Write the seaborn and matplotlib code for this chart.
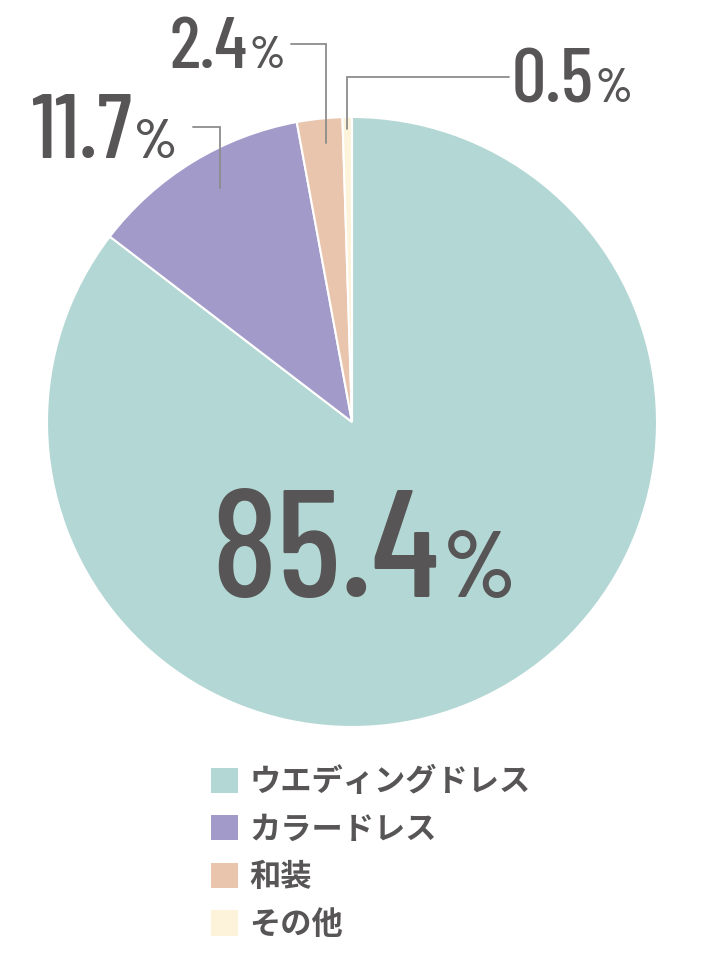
import matplotlib
matplotlib.use('Agg')
import matplotlib.pyplot as plt
import numpy as np
import seaborn as sns
from matplotlib import font_manager
from matplotlib.font_manager import FontProperties
from matplotlib.patches import Patch
from matplotlib.textpath import TextPath

# data
labels = ['ウエディングドレス', 'カラードレス', '和装', 'その他']
shares = [85.4, 11.7, 2.4, 0.5]
share_text = ['85.4', '11.7', '2.4', '0.5']
colors = ['#b3d7d4', '#a29ac8', '#eac5ad', '#fdf3da']

sns.set_theme(style='white')
plt.rcParams['font.family'] = ['Noto Sans CJK JP', 'DejaVu Sans']
text_color = '#575555'
line_color = '#8c8c8c'

# narrow font for the numbers
files = [f.fname for f in font_manager.fontManager.ttflist]


def find_font(keys):
    for key in keys:
        hits = [p for p in files if key in p]
        if hits:
            return hits[0]
    return None


num_path = find_font(['BarlowCondensed-Medium.ttf', 'FiraSansExtraCondensed-Medium.ttf',
                      'DejaVuSansCondensed.ttf', 'LiberationSansNarrow-Regular'])
pct_path = find_font(['BarlowCondensed-SemiBold.ttf', 'BarlowCondensed-Medium.ttf',
                      'DejaVuSansCondensed.ttf'])


def make_font(path, size):
    if path:
        return FontProperties(fname=path, size=size)
    return FontProperties(family='DejaVu Sans', size=size)


W, H = 720, 980
fig = plt.figure(figsize=(W / 100, H / 100), dpi=100)
cx, cy, R = 352, 422, 305
ax = fig.add_axes([(cx - R) / W, (H - cy - R) / H, 2 * R / W, 2 * R / H])

wedges, _ = ax.pie(shares, colors=sns.color_palette(colors), startangle=90,
                   counterclock=False, radius=1,
                   wedgeprops=dict(edgecolor='white', linewidth=1.5))
ax.set_xlim(-1, 1)
ax.set_ylim(-1, 1)


def dx(px):
    return (px - cx) / R


def dy(py):
    return (cy - py) / R


renderer = fig.canvas.get_renderer()
cap_em = TextPath((0, 0), '8', prop=make_font(num_path, 1)).get_extents().height


def pct_label(txt, xc, base, cap):
    size = cap / cap_em * 72 / 100
    t1 = ax.text(0, 0, txt, fontproperties=make_font(num_path, size), color=text_color,
                 ha='left', va='baseline', clip_on=False)
    t2 = ax.text(0, 0, '%', fontproperties=make_font(pct_path, size * 0.62),
                 color=text_color, ha='left', va='baseline', clip_on=False)
    w1 = t1.get_window_extent(renderer).width
    w2 = t2.get_window_extent(renderer).width
    gap = 0.03 * cap
    left = xc - (w1 + gap + w2) / 2
    t1.set_position((dx(left), dy(base)))
    t2.set_position((dx(left + w1 + gap), dy(base)))


# label centre x, baseline y, cap height (pixels)
label_pos = [(364, 597, 110), (104, 158, 65), (227, 68, 53), (572, 102, 55)]
for txt, (xc, base, cap) in zip(share_text, label_pos):
    pct_label(txt, xc, base, cap)

# leader lines: wedge index, position across wedge, radius, elbow y, end x
leaders = [(1, 0.45, 0.88, 127, 193), (2, 0.4, 0.92, 44, 291), (3, 0.5, 0.96, 77, 509)]
for i, frac, r, ey, ex in leaders:
    w = wedges[i]
    ang = np.deg2rad(w.theta1 + frac * (w.theta2 - w.theta1))
    x0, y0 = r * np.cos(ang), r * np.sin(ang)
    ax.plot([x0, x0, dx(ex)], [y0, dy(ey), dy(ey)], color=line_color, lw=1.3,
            solid_joinstyle='miter', clip_on=False)

handles = [Patch(facecolor=c, edgecolor='none') for c in colors]
fig.legend(handles, labels, loc='upper left', bbox_to_anchor=(211 / W, 1 - 766 / H),
           frameon=False, borderpad=0, borderaxespad=0, handlelength=0.87,
           handleheight=0.87, handletextpad=0.35, labelspacing=0.5,
           prop={'size': 22.5, 'weight': 'bold'}, labelcolor=text_color)

fig.savefig('out.png', dpi=100)
